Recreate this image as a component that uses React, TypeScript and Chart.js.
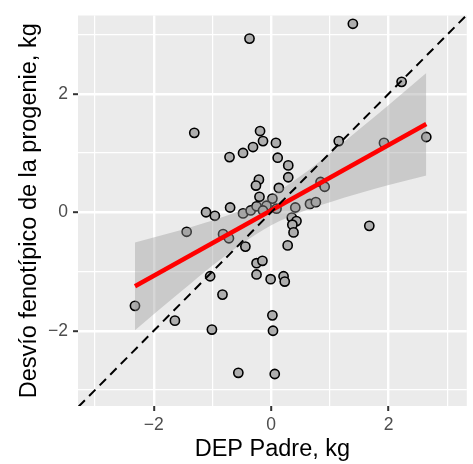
import React, { useEffect, useRef } from 'react';
import { Chart, registerables } from 'chart.js';
Chart.register(...registerables);

// Observed data: DEP Padre (x) vs Desvío fenotípico de la progenie (y), kg
const depPadre = [
  -0.37, 1.39, 2.22, -1.31, -0.19, -0.14, 0.08, -0.31, -0.48, -0.71,
  0.11, 0.29, 0.29, -0.21, -0.26, 0.13, -0.2, 0.02, -0.7, -1.11,
  -0.96, -0.48, -0.35, -0.25, -0.08, -0.14, 0.09, 0.41, 0.66, 0.76,
  0.84, 0.91, 0.35, 0.43, 0.36, 0.38, 1.15, 1.92, 2.64, 1.67,
  -1.44, -0.82, -0.72, -0.44, 0.28, -0.25, -0.15, -1.04, -0.25, -0.01,
  0.21, 0.23, -0.83, -2.32, -1.64, -1.01, 0.02, 0.03, -0.56, 0.06,
];
const desvio = [
  2.93, 3.18, 2.2, 1.34, 1.37, 1.2, 1.17, 1.1, 1.0, 0.93,
  0.92, 0.79, 0.59, 0.55, 0.45, 0.41, 0.26, 0.23, 0.08, 0.0,
  -0.06, -0.02, 0.03, 0.1, 0.11, 0.03, 0.06, 0.08, 0.14, 0.17,
  0.51, 0.43, -0.09, -0.15, -0.21, -0.34, 1.2, 1.17, 1.27, -0.23,
  -0.33, -0.37, -0.44, -0.58, -0.56, -0.86, -0.82, -1.08, -1.05, -1.13,
  -1.08, -1.17, -1.39, -1.58, -1.83, -1.98, -1.74, -2.0, -2.71, -2.73,
];

// Fitted regression line
const fitX = [-2.32, 2.64];
const fitY = [-1.25, 1.49];

// Confidence band
const bandX = [-2.32, -1.5, -1, -0.5, 0, 0.5, 1, 1.5, 2, 2.64];
const bandLow = [-1.99, -1.31, -0.9, -0.53, -0.22, 0.0, 0.17, 0.32, 0.46, 0.62];
const bandHigh = [-0.51, -0.29, -0.14, 0.04, 0.28, 0.61, 0.99, 1.4, 1.81, 2.35];

// 1:1 reference line
const identityX = [-4, 4];
const identityY = [-4, 4];

const tickValues = [-3, -2, -1, 0, 1, 2, 3];
const majorTicks = [-2, 0, 2];

const FONT = '"Liberation Sans", Arial, Helvetica, sans-serif';

const isMajor = (v: number) => majorTicks.includes(v);
const tickLabel = (v: number | string) => {
  const n = Number(v);
  if (!isMajor(n)) return '';
  return n < 0 ? '\u2212' + Math.abs(n) : String(n);
};

export default function App() {
  const ref = useRef<HTMLCanvasElement>(null);

  useEffect(() => {
    if (!ref.current) return;
    const panelBg = {
      id: 'panelBg',
      beforeDraw(chart: any) {
        const { ctx, chartArea } = chart;
        ctx.save();
        ctx.fillStyle = '#EBEBEB';
        ctx.fillRect(chartArea.left, chartArea.top, chartArea.right - chartArea.left, chartArea.bottom - chartArea.top);
        ctx.restore();
      },
    };

    const gridCfg = {
      color: '#FFFFFF',
      lineWidth: (c: any) => (c.tick && isMajor(c.tick.value) ? 2.4 : 1.2),
      drawTicks: true,
      tickLength: 5,
      tickColor: (c: any) => (c.tick && isMajor(c.tick.value) ? '#333333' : 'rgba(0,0,0,0)'),
      tickWidth: (c: any) => (c.tick && isMajor(c.tick.value) ? 2 : 0),
    };
    const tickCfg = {
      callback: (v: any) => tickLabel(v),
      color: '#4D4D4D',
      font: { family: FONT, size: 17.5 },
      autoSkip: false,
      maxRotation: 0,
    };

    const chart = new Chart(ref.current, {
      type: 'scatter',
      data: {
        datasets: [
          {
            type: 'line',
            label: 'lower',
            data: bandX.map((x, i) => ({ x, y: bandLow[i] })),
            borderWidth: 0,
            borderColor: 'rgba(0,0,0,0)',
            pointRadius: 0,
            fill: false,
            cubicInterpolationMode: 'monotone',
            order: 3,
          } as any,
          {
            type: 'line',
            label: 'upper',
            data: bandX.map((x, i) => ({ x, y: bandHigh[i] })),
            borderWidth: 0,
            borderColor: 'rgba(0,0,0,0)',
            backgroundColor: 'rgba(153,153,153,0.4)',
            pointRadius: 0,
            fill: '-1',
            cubicInterpolationMode: 'monotone',
            order: 3,
          } as any,
          {
            type: 'line',
            label: 'fit',
            data: fitX.map((x, i) => ({ x, y: fitY[i] })),
            borderColor: '#FF0000',
            borderWidth: 4.5,
            pointRadius: 0,
            fill: false,
            order: 2,
          } as any,
          {
            type: 'line',
            label: '1:1',
            data: identityX.map((x, i) => ({ x, y: identityY[i] })),
            borderColor: '#000000',
            borderWidth: 2,
            borderDash: [9, 6],
            pointRadius: 0,
            fill: false,
            clip: 0,
            order: 1,
          } as any,
          {
            type: 'scatter',
            label: 'toros',
            data: depPadre.map((x, i) => ({ x, y: desvio[i] })),
            backgroundColor: '#AEAEAE',
            borderColor: '#000000',
            borderWidth: 1.6,
            pointRadius: 4.6,
            order: 4,
          } as any,
        ],
      },
      options: {
        responsive: false,
        animation: false,
        layout: { padding: { top: 12.5, left: 0, right: 0, bottom: 0 } },
        plugins: { legend: { display: false }, tooltip: { enabled: false } },
        scales: {
          x: {
            type: 'linear',
            min: -3.29,
            max: 3.33,
            afterBuildTicks: (s: any) => {
              s.ticks = tickValues.map((v) => ({ value: v }));
            },
            afterFit: (s: any) => {
              s.height = 58;
            },
            grid: gridCfg as any,
            border: { display: false },
            ticks: { ...tickCfg, padding: 3.5 } as any,
            title: {
              display: true,
              text: 'DEP Padre, kg',
              color: '#000000',
              font: { family: FONT, size: 23.5 },
              padding: { top: 0, bottom: 0 },
            },
          },
          y: {
            type: 'linear',
            min: -3.27,
            max: 3.32,
            afterBuildTicks: (s: any) => {
              s.ticks = tickValues.map((v) => ({ value: v }));
            },
            afterFit: (s: any) => {
              s.width = 78;
            },
            grid: gridCfg as any,
            border: { display: false },
            ticks: { ...tickCfg, padding: 5 } as any,
            title: {
              display: true,
              text: 'Desvío fenotípico de la progenie, kg',
              color: '#000000',
              font: { family: FONT, size: 23.5 },
              padding: { top: 15, bottom: 0 },
            },
          },
        },
      } as any,
      plugins: [panelBg],
    });
    return () => chart.destroy();
  }, []);

  return (
    <div style={{ position: 'absolute', left: 0, top: 0, width: 473, height: 464 }}>
      <canvas ref={ref} width={473} height={464} style={{ display: 'block' }} />
    </div>
  );
}
